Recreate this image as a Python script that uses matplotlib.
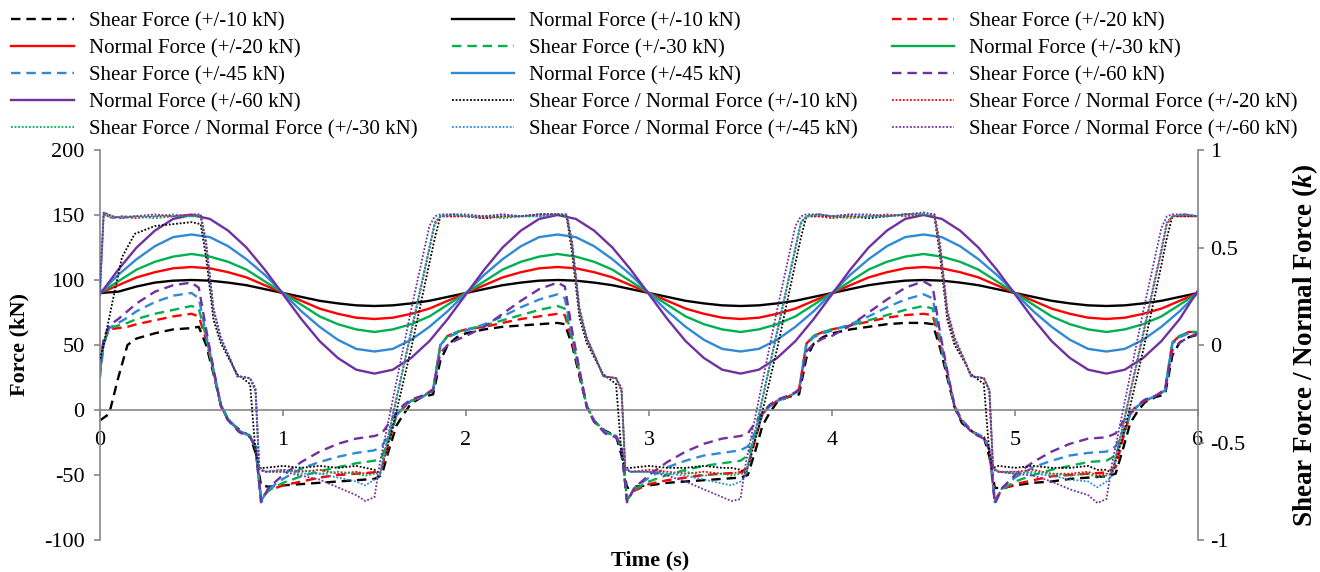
import numpy as np
import matplotlib
matplotlib.use('Agg')
import matplotlib.pyplot as plt

plt.rcParams['font.family'] = ['Liberation Serif', 'DejaVu Serif']
plt.rcParams['axes.unicode_minus'] = False
plt.rcParams['mathtext.fontset'] = 'custom'
plt.rcParams['mathtext.rm'] = 'Liberation Serif'
plt.rcParams['mathtext.it'] = 'Liberation Serif:italic'
plt.rcParams['mathtext.bf'] = 'Liberation Serif:bold'
plt.rcParams['mathtext.bfit'] = 'Liberation Serif:italic:bold'

amps = ['10', '20', '30', '45', '60']
colors = ['#000000', '#FF0000', '#00B050', '#2F8AD6', '#7030A0']

# ---- shear force (kN), dashed ----
t_shear = [0.0, 0.02, 0.05, 0.1, 0.15, 0.2, 0.3, 0.4, 0.5, 0.54, 0.58, 0.62, 0.66, 0.7, 0.76, 0.82, 0.85, 0.88, 0.92,
           1.0, 1.1, 1.2, 1.3, 1.4, 1.5, 1.54, 1.58, 1.62, 1.66, 1.7, 1.76, 1.82, 1.86, 1.9, 1.95,
           2.0, 2.1, 2.2, 2.3, 2.4, 2.5, 2.54, 2.58, 2.62, 2.66, 2.7, 2.76, 2.82, 2.85, 2.88, 2.92,
           3.0, 3.1, 3.2, 3.3, 3.4, 3.5, 3.54, 3.58, 3.62, 3.66, 3.7, 3.76, 3.82, 3.86, 3.9, 3.95,
           4.0, 4.1, 4.2, 4.3, 4.4, 4.5, 4.55, 4.59, 4.63, 4.67, 4.71, 4.77, 4.83, 4.86, 4.89, 4.93,
           5.0, 5.1, 5.2, 5.3, 5.4, 5.5, 5.55, 5.59, 5.63, 5.67, 5.71, 5.77, 5.82, 5.86, 5.9, 5.95,
           6.0]

shear_10 = [-8, -6, -3, 25, 50, 55, 59, 62, 63,
            64, 50, 28, 4, -8, -15, -20, -33, -58, -59, -58, -57, -56, -55, -54, -53, -50, -30, -12, -3, 5, 10, 12, 38, 50, 56,
            59, 62, 64, 65, 66, 67,
            66, 50, 26, 3, -9, -16, -20, -35, -60, -59, -58, -56, -55, -54, -53, -52, -50, -32, -12, -2, 6, 10, 12, 40, 51, 56,
            59, 62, 64, 66, 67, 67,
            66, 48, 25, 2, -10, -17, -21, -36, -60, -60, -58, -56, -55, -53, -52, -51, -49, -30, -10, -1, 6, 10, 12, 42, 52, 56,
            58]
shear_20 = [30, 52, 62, 63, 64, 66, 69, 72, 74,
            72, 54, 30, 4, -7, -16, -20, -28, -68, -62, -58, -55, -52, -50, -49, -48, -45, -24, -4, 2, 7, 10, 16, 50, 57, 60,
            62, 64, 67, 70, 72, 74,
            73, 53, 28, 3, -8, -17, -20, -29, -69, -62, -57, -54, -52, -50, -49, -48, -44, -23, -3, 3, 7, 10, 16, 51, 57, 60,
            62, 65, 68, 71, 73, 74,
            73, 52, 28, 3, -8, -17, -21, -30, -69, -61, -57, -54, -51, -50, -49, -48, -44, -22, -3, 3, 7, 11, 16, 52, 57, 60,
            60]
shear_30 = [30, 52, 63, 65, 67, 70, 74, 77, 80,
            78, 56, 30, 4, -7, -16, -20, -28, -69, -62, -56, -51, -47, -44, -41, -39, -36, -22, -4, 2, 7, 10, 15, 50, 57, 60,
            62, 65, 69, 73, 77, 80,
            78, 55, 29, 3, -8, -17, -20, -29, -69, -61, -55, -50, -46, -43, -41, -39, -35, -21, -3, 3, 7, 10, 15, 51, 57, 60,
            62, 65, 69, 73, 77, 80,
            78, 54, 28, 3, -8, -17, -21, -30, -70, -61, -55, -50, -46, -43, -40, -39, -35, -20, -3, 3, 7, 11, 15, 52, 57, 60,
            60]
shear_45 = [25, 50, 63, 67, 71, 76, 83, 88, 90,
            86, 58, 31, 4, -7, -16, -20, -28, -70, -61, -53, -45, -40, -36, -33, -31, -28, -18, -4, 3, 7, 10, 15, 50, 56, 59,
            61, 66, 72, 79, 85, 89,
            86, 57, 30, 3, -8, -17, -20, -29, -70, -60, -52, -44, -39, -35, -33, -31, -28, -17, -3, 3, 7, 10, 15, 50, 56, 59,
            61, 66, 72, 79, 85, 89,
            86, 56, 29, 3, -8, -17, -21, -30, -71, -60, -52, -44, -39, -35, -33, -32, -28, -17, -3, 3, 7, 11, 15, 51, 56, 59,
            59]
shear_60 = [35, 55, 65, 70, 76, 82, 91, 96, 98,
            94, 62, 32, 3, -8, -17, -21, -29, -71, -60, -50, -40, -32, -26, -22, -20, -18, -10, -2, 4, 8, 11, 15, 44, 50, 54,
            57, 64, 74, 84, 93, 98,
            95, 61, 31, 2, -9, -18, -21, -30, -71, -60, -50, -40, -32, -26, -22, -20, -18, -10, -2, 4, 8, 11, 15, 45, 51, 55,
            57, 65, 75, 85, 94, 99,
            95, 60, 30, 2, -9, -18, -22, -31, -72, -60, -50, -40, -32, -26, -22, -21, -18, -9, -2, 4, 8, 11, 15, 46, 52, 56,
            59]

# ---- normal force (kN), solid ----
t_normal = np.linspace(0, 6, 61)
normal_10 = [90, 91, 95, 98, 99.5, 100, 99.5, 98, 96, 93, 90, 87, 84, 82, 80.5, 80, 80.5, 82, 84, 87,
             90, 93, 96, 98, 99.5, 100, 99.5, 98, 96, 93, 90, 87, 84, 82, 80.5, 80, 80.5, 82, 84, 87,
             90, 93, 96, 98, 99.5, 100, 99.5, 98, 96, 93, 90, 87, 84, 82, 80.5, 80, 80.5, 82, 84, 87, 90]
normal_20 = [90, 96, 102, 106, 109, 110, 109, 106, 102, 96, 90, 84, 78, 74, 71, 70, 71, 74, 78, 84,
             90, 96, 102, 106, 109, 110, 109, 106, 102, 96, 90, 84, 78, 74, 71, 70, 71, 74, 78, 84,
             90, 96, 102, 106, 109, 110, 109, 106, 102, 96, 90, 84, 78, 74, 71, 70, 71, 74, 78, 84, 90]
normal_30 = [90, 99, 108, 114, 118, 120, 118, 114, 108, 99, 90, 81, 72, 66, 62, 60, 62, 66, 72, 81,
             90, 99, 108, 114, 118, 120, 118, 114, 108, 99, 90, 81, 72, 66, 62, 60, 62, 66, 72, 81,
             90, 99, 108, 114, 118, 120, 118, 114, 108, 99, 90, 81, 72, 66, 62, 60, 62, 66, 72, 81, 90]
normal_45 = [90, 104, 116, 126, 133, 135, 133, 126, 116, 104, 90, 76, 64, 54, 47, 45, 47, 54, 64, 76,
             90, 104, 116, 126, 133, 135, 133, 126, 116, 104, 90, 76, 64, 54, 47, 45, 47, 54, 64, 76,
             90, 104, 116, 126, 133, 135, 133, 126, 116, 104, 90, 76, 64, 54, 47, 45, 47, 54, 64, 76, 90]
normal_60 = [89, 108, 125, 138, 147, 150, 147, 138, 125, 108, 89, 70, 53, 40, 31, 28, 31, 40, 53, 70,
             89, 108, 125, 138, 147, 150, 147, 138, 125, 108, 89, 70, 53, 40, 31, 28, 31, 40, 53, 70,
             89, 108, 125, 138, 147, 150, 147, 138, 125, 108, 89, 70, 53, 40, 31, 28, 31, 40, 53, 70, 92]

# ---- shear / normal ratio k, dotted, right axis ----
t_ratio = [0.0, 0.02, 0.07, 0.12, 0.19, 0.3, 0.4, 0.5, 0.55, 0.58, 0.62, 0.66, 0.71, 0.75, 0.82, 0.85, 0.87, 0.9,
           1.0, 1.1, 1.2, 1.3, 1.4, 1.45, 1.5, 1.53, 1.6, 1.7, 1.8, 1.83, 1.86, 1.93,
           2.0, 2.1, 2.2, 2.3, 2.4, 2.5, 2.55, 2.58, 2.62, 2.66, 2.71, 2.75, 2.82, 2.85, 2.87, 2.9,
           3.0, 3.1, 3.2, 3.3, 3.4, 3.45, 3.5, 3.53, 3.6, 3.7, 3.8, 3.83, 3.86, 3.93,
           4.0, 4.1, 4.2, 4.3, 4.4, 4.5, 4.56, 4.59, 4.63, 4.67, 4.72, 4.76, 4.83, 4.86, 4.88, 4.91,
           5.0, 5.1, 5.2, 5.3, 5.4, 5.45, 5.5, 5.53, 5.6, 5.7, 5.8, 5.83, 5.86, 5.93,
           6.0]

ratio_10 = [-0.07, 0.0, 0.23, 0.45, 0.57, 0.61, 0.62, 0.63,
            0.62, 0.45, 0.13, 0.01, -0.08, -0.15, -0.2, -0.55, -0.63, -0.63, -0.62, -0.63, -0.62, -0.63, -0.62, -0.63,
            -0.64, -0.66, -0.42, -0.02, 0.42, 0.55, 0.66, 0.66,
            0.66, 0.65, 0.66, 0.66, 0.67, 0.67,
            0.66, 0.47, 0.14, 0.01, -0.08, -0.15, -0.2, -0.56, -0.63, -0.63, -0.62, -0.63, -0.63, -0.62, -0.63, -0.63,
            -0.64, -0.66, -0.42, -0.02, 0.42, 0.55, 0.66, 0.66,
            0.66, 0.66, 0.65, 0.66, 0.67, 0.67,
            0.66, 0.46, 0.13, 0.0, -0.08, -0.15, -0.2, -0.56, -0.63, -0.62, -0.63, -0.62, -0.63, -0.63, -0.62, -0.64,
            -0.64, -0.66, -0.43, -0.03, 0.41, 0.55, 0.66, 0.66,
            0.66]
ratio_20 = [0.28, 0.67, 0.65, 0.66, 0.65, 0.66, 0.66, 0.67,
            0.66, 0.5, 0.17, 0.03, -0.07, -0.16, -0.17, -0.22, -0.62, -0.65, -0.64, -0.65, -0.64, -0.66, -0.65, -0.66,
            -0.65, -0.66, -0.36, 0.06, 0.49, 0.62, 0.66, 0.66,
            0.66, 0.65, 0.66, 0.66, 0.67, 0.67,
            0.66, 0.5, 0.17, 0.03, -0.07, -0.16, -0.17, -0.22, -0.63, -0.65, -0.64, -0.65, -0.66, -0.65, -0.66, -0.66,
            -0.65, -0.66, -0.36, 0.06, 0.49, 0.62, 0.66, 0.66,
            0.65, 0.66, 0.66, 0.67, 0.66, 0.67,
            0.66, 0.49, 0.16, 0.02, -0.07, -0.16, -0.17, -0.23, -0.63, -0.65, -0.65, -0.64, -0.66, -0.66, -0.65, -0.67,
            -0.66, -0.66, -0.37, 0.05, 0.48, 0.62, 0.66, 0.66,
            0.66]
ratio_30 = [0.27, 0.68, 0.66, 0.65, 0.66, 0.65, 0.66, 0.66,
            0.66, 0.51, 0.18, 0.03, -0.07, -0.16, -0.17, -0.23, -0.63, -0.65, -0.65, -0.64, -0.66, -0.65, -0.66, -0.67,
            -0.66, -0.66, -0.36, 0.07, 0.5, 0.63, 0.66, 0.67,
            0.66, 0.66, 0.65, 0.66, 0.66, 0.67,
            0.66, 0.51, 0.18, 0.03, -0.07, -0.16, -0.17, -0.23, -0.63, -0.65, -0.65, -0.66, -0.65, -0.67, -0.66, -0.67,
            -0.66, -0.66, -0.36, 0.07, 0.5, 0.63, 0.66, 0.67,
            0.66, 0.65, 0.66, 0.66, 0.67, 0.67,
            0.66, 0.5, 0.17, 0.03, -0.07, -0.16, -0.17, -0.23, -0.63, -0.65, -0.66, -0.65, -0.66, -0.67, -0.66, -0.68,
            -0.67, -0.66, -0.37, 0.06, 0.49, 0.63, 0.66, 0.67,
            0.66]
ratio_45 = [0.25, 0.67, 0.65, 0.66, 0.66, 0.66, 0.67, 0.66,
            0.67, 0.52, 0.18, 0.03, -0.07, -0.16, -0.17, -0.23, -0.63, -0.65, -0.64, -0.66, -0.66, -0.68, -0.7, -0.72,
            -0.69, -0.67, -0.36, 0.07, 0.5, 0.63, 0.66, 0.67,
            0.66, 0.66, 0.67, 0.66, 0.66, 0.67,
            0.67, 0.52, 0.18, 0.03, -0.07, -0.16, -0.17, -0.23, -0.63, -0.65, -0.65, -0.66, -0.67, -0.69, -0.71, -0.72,
            -0.7, -0.67, -0.36, 0.07, 0.5, 0.63, 0.66, 0.67,
            0.66, 0.67, 0.66, 0.66, 0.67, 0.67,
            0.67, 0.51, 0.17, 0.03, -0.07, -0.16, -0.17, -0.23, -0.63, -0.65, -0.65, -0.66, -0.67, -0.69, -0.7, -0.73,
            -0.7, -0.67, -0.37, 0.06, 0.49, 0.63, 0.66, 0.67,
            0.66]
ratio_60 = [0.3, 0.68, 0.66, 0.65, 0.66, 0.67, 0.66, 0.67,
            0.67, 0.53, 0.19, 0.04, -0.07, -0.16, -0.17, -0.24, -0.64, -0.65, -0.65, -0.67, -0.69, -0.73, -0.77, -0.8,
            -0.78, -0.6, -0.28, 0.18, 0.61, 0.66, 0.67, 0.67,
            0.67, 0.66, 0.67, 0.66, 0.67, 0.67,
            0.67, 0.53, 0.19, 0.04, -0.07, -0.16, -0.17, -0.24, -0.64, -0.65, -0.65, -0.67, -0.7, -0.74, -0.78, -0.8,
            -0.79, -0.6, -0.28, 0.18, 0.61, 0.66, 0.67, 0.67,
            0.66, 0.67, 0.67, 0.66, 0.67, 0.68,
            0.67, 0.52, 0.18, 0.04, -0.07, -0.16, -0.17, -0.24, -0.64, -0.65, -0.66, -0.67, -0.7, -0.74, -0.77, -0.81,
            -0.79, -0.61, -0.29, 0.17, 0.6, 0.66, 0.67, 0.67,
            0.66]

shear = [shear_10, shear_20, shear_30, shear_45, shear_60]
normal = [normal_10, normal_20, normal_30, normal_45, normal_60]
ratio = [ratio_10, ratio_20, ratio_30, ratio_45, ratio_60]

fig = plt.figure(figsize=(13.2, 5.72), dpi=100)
ax = fig.add_axes([100 / 1320, 32 / 572, 1098 / 1320, 390 / 572])
ax2 = ax.twinx()

gray = '#868686'
items = []
for i in range(5):
    s, = ax.plot(t_shear, shear[i], color=colors[i], lw=1.7, dashes=(4, 2.5),
                 label='Shear Force (+/-' + amps[i] + ' kN)')
    n, = ax.plot(t_normal, normal[i], color=colors[i], lw=1.7,
                 label='Normal Force (+/-' + amps[i] + ' kN)')
    items += [s, n]
for i in range(5):
    r, = ax2.plot(t_ratio, ratio[i], color=colors[i], lw=1.3, dashes=(1, 1),
                  label='Shear Force / Normal Force (+/-' + amps[i] + ' kN)')
    items.append(r)

ax.set_xlim(0, 6)
ax.set_ylim(-100, 200)
ax.set_yticks([-100, -50, 0, 50, 100, 150, 200])
ax.set_xticks([0, 1, 2, 3, 4, 5, 6])
ax2.set_ylim(-1, 1)
ax2.set_yticks([-1, -0.5, 0, 0.5, 1])
ax2.set_yticklabels(['-1', '-0.5', '0', '0.5', '1'])

for a in (ax, ax2):
    a.spines['top'].set_visible(False)
ax.spines['right'].set_visible(False)
ax2.spines['left'].set_visible(False)
ax2.spines['bottom'].set_visible(False)
ax.spines['bottom'].set_position(('data', 0))
for sp in (ax.spines['left'], ax.spines['bottom'], ax2.spines['right']):
    sp.set_color(gray)
    sp.set_linewidth(1.2)

ax.tick_params(axis='y', direction='out', length=4, width=1.2, color=gray, labelsize=16, pad=7)
ax.tick_params(axis='x', direction='out', length=4, width=1.2, color=gray, labelsize=16, pad=11)
ax2.tick_params(axis='y', direction='out', length=4, width=1.2, color=gray, labelsize=16, pad=5)

ax.set_ylabel('Force (kN)', fontsize=16, fontweight='bold')
ax.yaxis.set_label_coords(-0.064, 0.5)
ax2.set_ylabel(r'Shear Force / Normal Force ($\mathbfit{k}$)', fontsize=19.5, fontweight='bold')
ax2.yaxis.set_label_coords(1.084, 0.5)
fig.text(650 / 1320, 1 - 560 / 572, 'Time (s)', fontsize=16, fontweight='bold', ha='center', va='center')

# legend laid out row by row like the original
order = [3 * r + c for c in range(3) for r in range(5)]
handles = [items[k] for k in order]
fig.legend(handles, [h.get_label() for h in handles], ncol=3, loc='upper left',
           bbox_to_anchor=(0.0, 1.0), frameon=False, fontsize=15,
           handlelength=3.0, handletextpad=0.7, columnspacing=1.65, labelspacing=0.36,
           borderaxespad=0.15)

fig.savefig('out.png', dpi=100)
